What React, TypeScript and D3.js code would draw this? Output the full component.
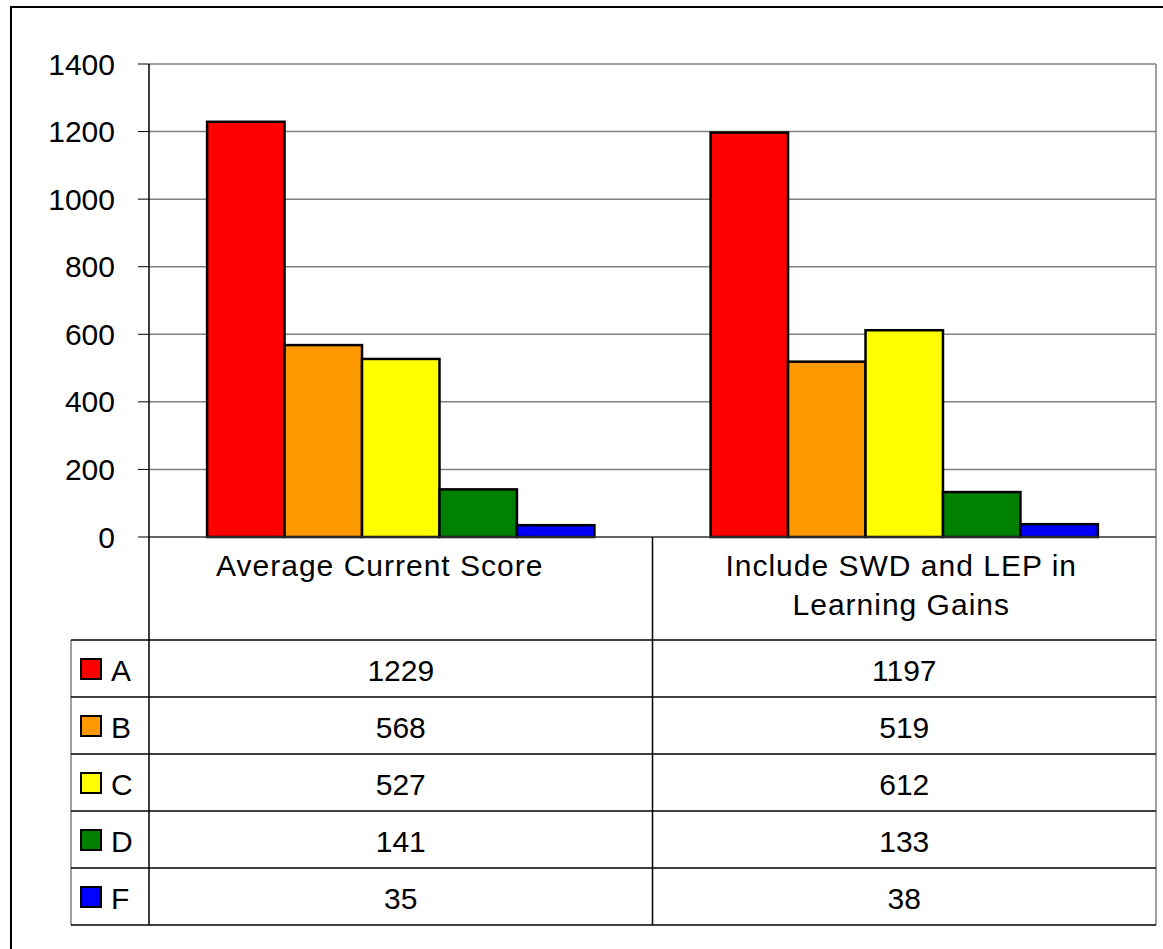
import * as d3 from "d3";

const categories = ["Average Current Score", "Include SWD and LEP in Learning Gains"];
const categoryLines = [["Average Current Score"], ["Include SWD and LEP in", "Learning Gains"]];
const seriesNames = ["A", "B", "C", "D", "F"];
const seriesColors = ["#ff0000", "#ff9900", "#ffff00", "#008000", "#0000ff"];
const valuesA = [1229, 1197];
const valuesB = [568, 519];
const valuesC = [527, 612];
const valuesD = [141, 133];
const valuesF = [35, 38];
const yTicks = [0, 200, 400, 600, 800, 1000, 1200, 1400];

const seriesValues = [valuesA, valuesB, valuesC, valuesD, valuesF];

const WIDTH = 1163;
const HEIGHT = 949;
const PLOT = { left: 149, right: 1156, top: 64, bottom: 537 };
const TABLE_LEFT = 71;
const TABLE_TOP = 640;
const ROW_H = 57;
const FONT = "Arial, 'Liberation Sans', sans-serif";
const GRID = "#808080";
// the category captions sit a little left of their column centres
const LABEL_SHIFT = [-21, -3];

export default function App() {
  const x = d3.scaleBand<string>().domain(categories).range([PLOT.left, PLOT.right]).paddingInner(0).paddingOuter(0);
  const inner = d3.scaleBand<string>().domain(seriesNames).range([0, x.bandwidth()]).paddingInner(0).paddingOuter(0.75);
  const y = d3.scaleLinear().domain([0, 1400]).range([PLOT.bottom, PLOT.top]);
  const tableBottom = TABLE_TOP + ROW_H * seriesNames.length;
  const colBounds = [PLOT.left, ...categories.map((c) => (x(c) ?? 0) + x.bandwidth())];

  return (
    <svg width={WIDTH} height={HEIGHT} viewBox={`0 0 ${WIDTH} ${HEIGHT}`} style={{ position: "absolute", left: 0, top: 0 }} fontFamily={FONT}>
      <rect x="0" y="0" width={WIDTH} height={HEIGHT} fill="#ffffff" />
      <rect x="11" y="7" width={WIDTH + 20} height={HEIGHT + 20} fill="none" stroke="#000" strokeWidth="2" />

      {/* gridlines and y axis */}
      {yTicks.map((t) => (
        <g key={t}>
          {t > 0 && <line x1={PLOT.left} x2={PLOT.right} y1={y(t)} y2={y(t)} stroke={GRID} strokeWidth="1.5" />}
          <line x1={PLOT.left - 11} x2={PLOT.left} y1={y(t)} y2={y(t)} stroke="#000" strokeWidth="1" />
          <text x={115} y={y(t) + 10.5} fontSize="30" textAnchor="end" fill="#000">
            {t}
          </text>
        </g>
      ))}
      <line x1={PLOT.right} x2={PLOT.right} y1={PLOT.top} y2={PLOT.bottom} stroke={GRID} strokeWidth="1.5" />

      {/* bars */}
      {categories.map((c, ci) => (
        <g key={c}>
          {seriesNames.map((s, si) => {
            const v = seriesValues[si][ci];
            return (
              <rect
                key={s}
                x={(x(c) ?? 0) + (inner(s) ?? 0)}
                y={y(v)}
                width={inner.bandwidth()}
                height={y(0) - y(v)}
                fill={seriesColors[si]}
                stroke="#000"
                strokeWidth="2.5"
              />
            );
          })}
        </g>
      ))}

      <line x1={PLOT.left} x2={PLOT.right} y1={y(0)} y2={y(0)} stroke="#333" strokeWidth="1.5" />
      <line x1={PLOT.left} x2={PLOT.left} y1={PLOT.top} y2={tableBottom} stroke="#000" strokeWidth="1.5" />

      {/* data table */}
      {colBounds.slice(1).map((cx, i) => (
        <line key={i} x1={cx} x2={cx} y1={PLOT.bottom} y2={tableBottom} stroke={i === colBounds.length - 2 ? GRID : "#000"} strokeWidth="1.5" />
      ))}
      <line x1={TABLE_LEFT} x2={TABLE_LEFT} y1={TABLE_TOP} y2={tableBottom} stroke={GRID} strokeWidth="1.5" />
      {d3.range(seriesNames.length + 1).map((r) => (
        <line key={r} x1={TABLE_LEFT} x2={PLOT.right} y1={TABLE_TOP + r * ROW_H} y2={TABLE_TOP + r * ROW_H} stroke="#000" strokeWidth="1.5" />
      ))}

      {categories.map((c, ci) => (
        <text key={c} textAnchor="middle" fontSize="30" letterSpacing="1" fill="#000">
          {categoryLines[ci].map((line, li) => (
            <tspan key={li} x={(x(c) ?? 0) + x.bandwidth() / 2 + LABEL_SHIFT[ci]} y={576 + li * 39}>
              {line}
            </tspan>
          ))}
        </text>
      ))}

      {seriesNames.map((s, si) => {
        const rowTop = TABLE_TOP + si * ROW_H;
        return (
          <g key={s}>
            <rect x={81} y={rowTop + 19} width={20} height={20} fill={seriesColors[si]} stroke="#000" strokeWidth="2" />
            <text x={111} y={rowTop + 41} fontSize="30" fill="#000">
              {s}
            </text>
            {categories.map((c, ci) => (
              <text key={c} x={(x(c) ?? 0) + x.bandwidth() / 2} y={rowTop + 41} fontSize="30" textAnchor="middle" fill="#000">
                {seriesValues[si][ci]}
              </text>
            ))}
          </g>
        );
      })}
    </svg>
  );
}
